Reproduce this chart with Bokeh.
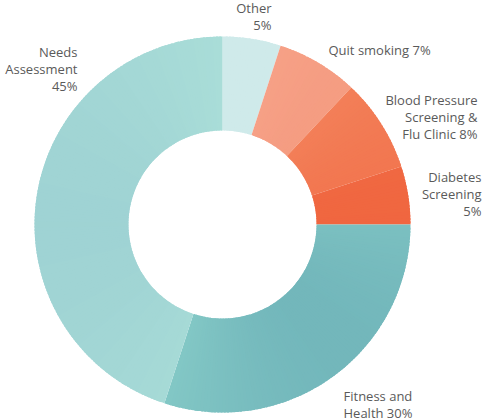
from bokeh.plotting import figure
from bokeh.models import Range1d, ColumnDataSource
from bokeh.core.properties import value
from bokeh.embed import file_html
from bokeh.resources import INLINE
import numpy as np

# ---- data ----
categories = ["Other", "Quit smoking", "Blood Pressure Screening & Flu Clinic",
              "Diabetes Screening", "Fitness and Health", "Needs Assessment"]
percents = [5, 7, 8, 5, 30, 45]
label_lines = [["Other", "5%"], ["Quit smoking 7%"],
               ["Blood Pressure", "Screening &", "Flu Clinic 8%"],
               ["Diabetes", "Screening", "5%"],
               ["Fitness and", "Health 30%"],
               ["Needs", "Assessment", "45%"]]

# ---- style: linear gradient per slice (color from, color to, direction in screen space x,y-down) ----
grad_from = ["#c8e5e6", "#f7ab91", "#f4865f", "#f27450", "#87ccc8", "#9cd0d2"]
grad_to   = ["#d6efee", "#f49176", "#f06d47", "#ee5a31", "#69adb5", "#a9ddd8"]
grad_dir  = [(0, 1), (1, -1), (1, 0), (1, 0), (1, 1), (1, 0)]

# ---- layout (screen-pixel coordinates, y downward -> negated) ----
W, H = 483, 419
cx, cy = 222, 224
r_out, r_in = 188, 94
label_anchor = [(271, 7, "right"), (328, 49, "left"), (477, 99, "right"),
                (481, 176, "right"), (343, 395, "left"), (77, 51, "right")]
line_gap = 17


def hex2rgb(h):
    h = h.lstrip("#")
    return np.array([int(h[i:i + 2], 16) for i in (0, 2, 4)], dtype=float)


def rgb2hex(c):
    return "#%02x%02x%02x" % tuple(int(round(v)) for v in c)


p = figure(width=W, height=H, output_backend="svg", toolbar_location=None,
           x_range=Range1d(0, W), y_range=Range1d(-H, 0),
           min_border=0, outline_line_color=None)
p.axis.visible = False
p.grid.visible = False

cum = np.cumsum([0] + percents)
starts, ends, cols = [], [], []
for k in range(len(percents)):
    a0 = 90 - cum[k] * 3.6
    a1 = 90 - cum[k + 1] * 3.6
    n = max(2, int(np.ceil((a0 - a1) / 1.0)))
    edges = np.linspace(a0, a1, n + 1)
    mids = (edges[:-1] + edges[1:]) / 2
    samp = np.linspace(a0, a1, 60)
    pts = np.concatenate([
        np.stack([np.cos(np.deg2rad(samp)) * r, -np.sin(np.deg2rad(samp)) * r], 1)
        for r in (r_in, r_out)])
    d = np.array(grad_dir[k], dtype=float)
    d /= np.linalg.norm(d)
    proj = pts @ d
    lo, hi = proj.min(), proj.max()
    rm = (r_in + r_out) / 2
    c0, c1 = hex2rgb(grad_from[k]), hex2rgb(grad_to[k])
    for i in range(n):
        m = np.deg2rad(mids[i])
        pt = np.array([np.cos(m) * rm, -np.sin(m) * rm])
        t = (pt @ d - lo) / (hi - lo) if hi > lo else 0.5
        t = min(max(t, 0.0), 1.0)
        # overlap each piece slightly into the next one (inside the slice) to hide seams
        e = edges[i + 1] - (0.6 if i < n - 1 else 0.0)
        starts.append(np.deg2rad(edges[i]))
        ends.append(np.deg2rad(e))
        cols.append(rgb2hex(c0 + (c1 - c0) * t))

src = ColumnDataSource(dict(start=starts, end=ends, color=cols))
p.annular_wedge(x=cx, y=-cy, inner_radius=r_in, outer_radius=r_out,
                start_angle="start", end_angle="end", direction="clock",
                fill_color="color", line_color=None, source=src)

xs, ys, ts, aligns = [], [], [], []
for lines, (lx, ly, al) in zip(label_lines, label_anchor):
    for i, t in enumerate(lines):
        xs.append(lx)
        ys.append(-(ly + i * line_gap))
        ts.append(t)
        aligns.append(al)
tsrc = ColumnDataSource(dict(x=xs, y=ys, text=ts, align=aligns))
p.text(x="x", y="y", text="text", text_align="align", text_baseline="alphabetic",
       text_font=value("Open Sans"), text_font_size="13px", text_color="#5a5a5a",
       source=tsrc)

open("out.html", "w").write(file_html(p, INLINE))
